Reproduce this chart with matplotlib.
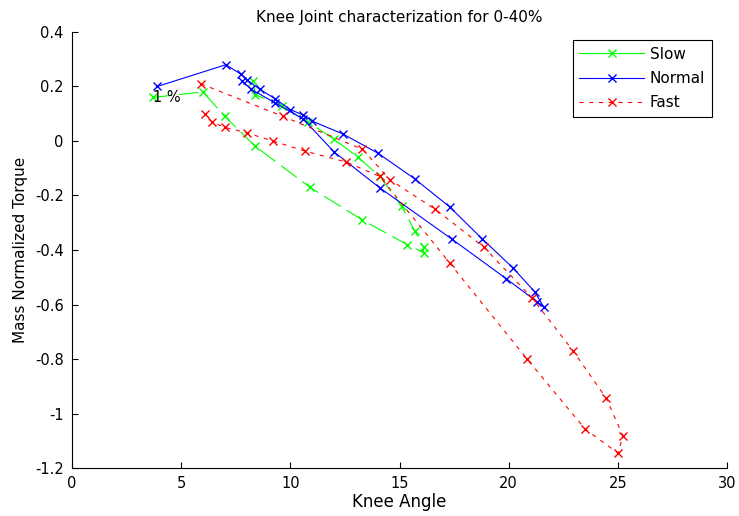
import matplotlib
matplotlib.use("Agg")
import matplotlib.pyplot as plt

plt.rcParams['font.family'] = ['DejaVu Sans']
plt.rcParams['lines.scale_dashes'] = False

# knee angle / torque traces over 0-40% of the gait cycle
slow_angle = [3.7, 6.0, 7.0, 8.4, 10.9, 13.3, 15.35, 16.1, 16.1, 15.7, 15.1, 14.1, 13.1, 12.0, 10.8, 9.6, 8.4, 8.3]
slow_torque = [0.16, 0.18, 0.09, -0.02, -0.17, -0.29, -0.38, -0.41, -0.39, -0.33, -0.24, -0.13, -0.06, 0.007, 0.07, 0.13, 0.17, 0.22]

normal_angle = [3.9, 7.05, 7.74, 8.0, 8.6, 9.3, 10.0, 10.6, 11.0, 12.4, 14.0, 15.7, 17.3, 18.8, 20.2, 21.2, 21.6,
                21.3, 19.9, 17.4, 14.1, 12.0, 10.6, 9.3, 8.2, 7.8]
normal_torque = [0.20, 0.28, 0.245, 0.225, 0.19, 0.155, 0.115, 0.095, 0.073, 0.026, -0.044, -0.139, -0.242, -0.36, -0.466, -0.554, -0.609,
                 -0.59, -0.506, -0.36, -0.172, -0.04, 0.08, 0.14, 0.19, 0.22]

fast_angle = [5.9, 9.67, 13.3, 14.57, 16.63, 18.87, 21.07, 22.95, 24.46, 25.24, 25.0,
              23.5, 20.84, 17.3, 14.1, 12.55, 10.67, 9.2, 8.0, 7.0, 6.4, 6.1]
fast_torque = [0.21, 0.09, -0.03, -0.143, -0.25, -0.39, -0.576, -0.77, -0.943, -1.083, -1.145,
               -1.057, -0.80, -0.448, -0.13, -0.077, -0.037, 0.0, 0.03, 0.05, 0.07, 0.10]

fig = plt.figure(figsize=(7.39, 5.16), dpi=100)
ax = fig.add_axes([0.0974, 0.093, 0.8864, 0.845])

ax.plot(slow_angle, slow_torque, '-x', color=(0, 1, 0), lw=0.8, ms=6, label='Slow', dashes=(14, 5))
ax.plot(normal_angle, normal_torque, '-x', color=(0, 0, 1), lw=0.8, ms=6, label='Normal')
ax.plot(fast_angle, fast_torque, '--x', color=(1, 0, 0), lw=0.8, ms=6, label='Fast', dashes=(3, 4))
ax.text(3.7, 0.16, '1 %', ha='left', va='center', fontsize=10.5)

ax.set_xlim(0, 30)
ax.set_ylim(-1.2, 0.4)
ax.set_xticks(range(0, 31, 5))
ax.set_yticks([0.4, 0.2, 0, -0.2, -0.4, -0.6, -0.8, -1, -1.2])
ax.set_yticklabels(['0.4', '0.2', '0', '-0.2', '-0.4', '-0.6', '-0.8', '-1', '-1.2'])
ax.spines['top'].set_visible(False)
ax.spines['right'].set_visible(False)
ax.tick_params(direction='in', length=4, labelsize=10.5, width=0.8, pad=6)
for s in ax.spines.values():
    s.set_linewidth(0.8)

ax.set_title('Knee Joint characterization for 0-40%', fontsize=11, pad=7)
ax.set_xlabel('Knee Angle', fontsize=12, labelpad=1)
ax.set_ylabel('Mass Normalized Torque', fontsize=11, labelpad=5)
leg = ax.legend(loc='upper right', bbox_to_anchor=(0.977, 0.982), borderaxespad=0, fontsize=11,
                fancybox=False, framealpha=1, edgecolor='black', borderpad=0.45,
                handlelength=4.2, handletextpad=0.4, labelspacing=0.6)
leg.get_frame().set_linewidth(0.8)
leg.get_lines()[0].set_dashes((None, None))
leg.get_lines()[0].set_linestyle('-')

fig.savefig('out.png', dpi=100)
